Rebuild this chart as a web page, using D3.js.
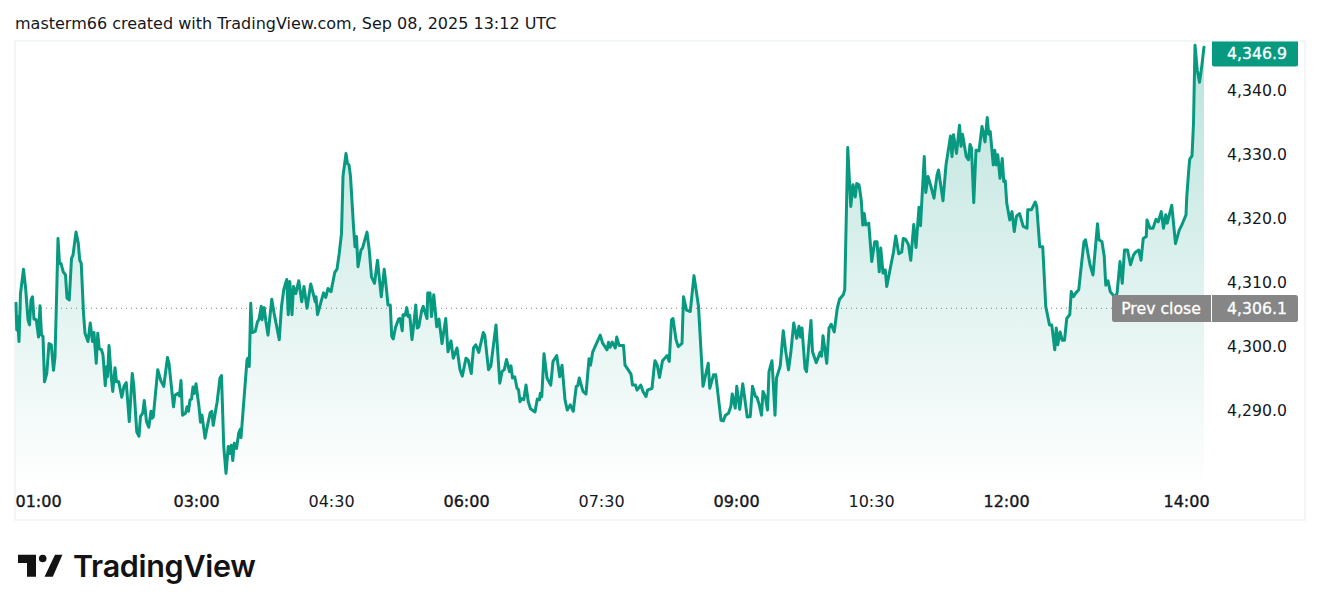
<!DOCTYPE html>
<html>
<head>
<meta charset="utf-8">
<script src="https://d3js.org/d3.v7.min.js"></script>
<style>
  html, body { margin: 0; padding: 0; background: #fff; }
  svg { display: block; }
  text { font-family: "DejaVu Sans", sans-serif; }
</style>
</head>
<body>
<div id="chart"></div>
<script>
// minutes after 01:00
const minutes = [
  0,0.5,1,2,3,5,6.5,8,9,10,11,12,13.5,15,16,17,18,19,20.5,22,23.5,25,26,27,28,29,30,31.5,33,34,35.5,37,38,40,41.5,42.5,43.5,45,46,48,49.5,51,52,53.5,54.5,55.5,57,58,59.5,60.5,61,62,63.5,64.5,66,67,68.5,70.5,72,73.5,75.5,77.5,78.5,80.5,82,83,84.5,85.5,87,88.5,90,90.5,91.5,94.5,96.5,98.5,101,102,105,106,108,109,110,111,113,114,115,116,117,118,119,120,122,123,124,126,127.5,129.5,130.5,131.5,133.5,134,136,137,138.5,140,141.5,142.5,143.5,144.5,145.5,147,148.5,149.5,150,154,154.5,155.5,156.5,157.5,159.5,161,
  162,163.5,164,165.5,166.5,168,170.5,172,175.5,177,178.5,180.5,181.5,182.5,184,185,186.5,188.5,190.5,192,194,196.5,199.5,200,201,205,206.5,208,210,212.5,214,215.5,217,218,220,221,222,223,225,226,227,228,230,231,234,235.5,237,239,241,243.5,245.5,247,248,249.5,250.5,251.5,253,255,256,257.5,258,259.5,260.5,261.5,262.5,264,265,266.5,267.5,268.5,270.5,271.5,274,274.5,276,277,278.5,280.5,282,284,286.5,288,290,291.5,294,296,297.5,300,301.5,303.5,305,306.5,308.5,311.5,312.5,315,316.5,320,322.5,
  324,325.5,327,329,330,331,332.5,334,335,336,337,338.5,340,341.5,343,346,347.5,349,349.5,350.5,352,354,356.5,358,360.5,362.5,364,366,367.5,369.5,371.5,373.5,374.5,375.5,378,380,382,383,384.5,387,389.5,391,394,395,396,397.5,399.5,400.5,402,405,406,407.5,410,411,413,414,416.5,418,420,421,424,425.5,426,427.5,429,431,434,435.5,437,438,440,441.5,444,445,447,449.5,452,455,458,461.5,462.5,465,466.5,470,471.5,473,475,476.5,477.5,479.5,480.5,482.5,484.5,487.5,489.5,
  491,493,494,495.5,497,498,499.5,501,502,504,506,507,509.5,511.5,513,515,516.5,518.5,520.5,522,523,524,526,527,530,531,533.5,536,537,538,540.5,542,543.5,545.5,547.5,549,551.5,552.5,554.5,556.5,558,559.5,560.5,562,563.5,564.5,565.5,566.5,568.5,570.5,572.5,574,575.5,576.5,578,579.5,580.5,583,585,586.5,588.5,590.5,591.5,593,595,596.5,598.5,600,602,603,605.5,606.5,608,610,612,614,615,618,620,623,624,625,627,629,630,631,633.5,635,636,637,638.5,640,642,644,646,647.5,648.5,649.5,651.5,652.5,653.5,654.5,656,657.5,658.5,659.5,660.5,662.5,664,665.5,667,669,
  671.5,674,674.5,677,679.5,680.5,682.5,684.5,686.5,689,690.5,692.5,693.5,694.5,696,697.5,699,700.5,702.5,703.5,705,706.5,708.5,710,712,713,716,718,721,722,724,725.5,726.5,728,729.5,730.5,732.5,734,736,737.5,739,741,743,745,746.5,748.5,750,751.5,753.5,754,756,758,760,761.5,763.5,765,766.5,767.5,770.5,773,775.5,777,780,780.5,782,782.5,784,785,786,787.5,789,790.5,792
];
const prices = [
  4306.9,4302.7,4304.8,4300.9,4308.4,4312.2,4309.0,4304.3,4303.5,4307.4,4307.9,4304.4,4304.3,4301.6,4306.5,4301.9,4301.7,4294.6,4295.9,4300.6,4300.4,4296.4,4298.5,4307.4,4317.0,4313.1,4313.1,4311.8,4311.3,4307.7,4307.4,4313.9,4314.4,4318.0,4316.3,4313.6,4313.1,4305.3,4302.2,4300.9,4303.8,4300.9,4302.3,4297.5,4302.2,4299.8,4299.6,4298.8,4294.0,4297.0,4295.4,4300.3,4295.4,4293.1,4296.8,4294.6,4294.6,4292.2,4293.9,4294.5,4288.4,4295.9,4294.1,4286.8,4286.1,4289.2,4289.7,4291.7,4288.4,4287.5,4290.0,4288.9,4289.1,4296.5,4294.8,4293.9,4298.4,4297.5,4290.7,4292.5,4292.8,4292.4,4294.8,4289.4,4289.7,4290.7,4290.0,4291.8,4291.9,4293.8,4292.8,4294.3,4290.7,4288.3,4289.4,4285.8,4287.6,4289.8,4290.0,4287.8,4290.7,4291.3,4295.2,4295.6,4284.5,4280.3,4284.5,4283.4,4284.7,4282.3,4285.0,4284.2,4286.6,4287.2,4285.9,4298.0,4298.3,4297.0,4306.9,4302.3,4302.5,4304.0,
  4304.4,4306.4,4304.3,4306.2,4304.2,4301.9,4307.5,4305.4,4301.2,4306.4,4309.0,4310.6,4305.1,4310.3,4305.1,4309.5,4308.4,4310.4,4307.1,4309.5,4306.1,4309.9,4307.1,4307.9,4305.1,4308.5,4307.8,4309.2,4308.7,4311.7,4312.2,4314.7,4317.8,4326.7,4330.3,4328.7,4328.5,4326.7,4318.9,4315.7,4317.3,4312.6,4315.2,4315.5,4318.0,4315.2,4311.0,4310.0,4313.6,4307.9,4312.2,4309.0,4306.6,4306.6,4301.7,4301.3,4303.1,4304.4,4304.5,4302.6,4305.1,4305.0,4306.2,4304.8,4305.0,4301.2,4303.2,4306.6,4303.0,4303.2,4305.8,4306.4,4304.5,4308.5,4308.5,4304.8,4308.2,4303.2,4304.4,4300.6,4304.5,4299.3,4301.0,4298.3,4299.9,4296.5,4295.5,4298.3,4298.0,4295.9,4299.9,4300.4,4299.2,4302.3,4301.9,4296.5,4297.0,4303.5,4294.4,
  4296.2,4296.5,4298.1,4296.2,4297.1,4295.2,4295.4,4293.6,4293.4,4291.5,4292.0,4291.8,4294.1,4291.5,4290.4,4289.9,4291.9,4291.8,4292.8,4292.3,4299.0,4295.2,4294.1,4297.8,4298.7,4295.4,4297.2,4291.8,4290.2,4291.0,4290.0,4293.9,4294.0,4295.2,4293.1,4292.7,4298.2,4297.2,4299.3,4300.6,4301.9,4300.7,4299.6,4300.8,4300.0,4300.8,4299.9,4301.6,4300.3,4300.3,4297.2,4296.7,4295.8,4294.1,4294.1,4293.3,4294.1,4293.1,4292.3,4293.3,4293.6,4297.0,4297.9,4297.2,4295.3,4297.9,4298.7,4297.8,4304.3,4304.5,4301.2,4300.1,4300.6,4307.9,4305.8,4305.6,4311.2,4306.4,4293.9,4297.5,4293.6,4295.7,4295.7,4288.6,4288.5,4289.4,4289.7,4290.7,4292.7,4290.5,4293.9,4290.3,4294.3,4289.1,4289.2,
  4293.9,4292.3,4292.2,4291.0,4289.4,4293.1,4292.3,4290.2,4296.2,4297.9,4289.4,4295.2,4297.1,4302.6,4299.6,4296.5,4299.1,4303.8,4301.4,4303.3,4301.6,4303.0,4296.7,4296.2,4304.2,4299.3,4297.6,4299.2,4298.6,4301.8,4297.5,4303.0,4303.6,4302.4,4306.1,4307.5,4308.2,4309.0,4331.2,4322.0,4325.4,4323.5,4325.6,4325.4,4323.0,4319.1,4320.9,4319.1,4319.4,4313.4,4316.5,4316.5,4311.8,4315.5,4311.6,4312.1,4309.5,4312.5,4314.9,4317.4,4314.6,4314.9,4317.0,4316.9,4316.0,4313.6,4319.2,4315.6,4321.9,4319.0,4329.8,4324.2,4326.7,4325.1,4323.3,4326.9,4327.7,4322.9,4328.5,4333.0,4329.8,4333.2,4330.3,4334.7,4331.4,4333.3,4329.8,4329.3,4331.7,4331.1,4322.6,4330.8,4330.7,4334.5,4332.1,4335.9,4333.3,4333.7,4328.5,4330.8,4328.5,4330.1,4326.4,4329.5,4325.9,4326.0,4322.5,4319.9,4321.2,4318.1,4320.5,4320.9,
  4318.9,4318.6,4321.5,4321.5,4322.7,4322.0,4315.7,4315.7,4306.4,4303.5,4303.5,4299.6,4303.0,4300.4,4302.4,4301.1,4301.1,4304.5,4305.1,4308.7,4307.9,4308.5,4309.0,4312.3,4316.5,4316.8,4312.9,4311.3,4319.3,4316.8,4316.5,4314.2,4309.7,4310.4,4308.7,4308.4,4307.9,4308.4,4313.4,4310.0,4315.2,4315.2,4312.9,4314.4,4314.9,4315.2,4313.6,4317.0,4317.3,4319.9,4318.6,4318.6,4320.0,4319.6,4321.2,4318.6,4320.7,4319.4,4322.2,4316.2,4318.3,4319.0,4320.7,4323.5,4328.2,4329.4,4329.9,4335.0,4347.2,4343.3,4341.4,4343.9,4346.9
];

const priceTicks = [4290, 4300, 4310, 4320, 4330, 4340];
const timeTicks = [0, 120, 210, 300, 390, 480, 570, 660, 780];
const timeLabels = ["01:00", "03:00", "04:30", "06:00", "07:30", "09:00", "10:30", "12:00", "14:00"];
const boldLabels = ["01:00", "03:00", "06:00", "09:00", "12:00", "14:00"];
const lastPrice = 4346.9;
const prevClose = 4306.1;
const header = "masterm66 created with TradingView.com, Sep 08, 2025 13:12 UTC";

const W = 1320, H = 611;
const green = "#089981";
const grey = "#868686";

const svg = d3.select("#chart").append("svg").attr("width", W).attr("height", H);

const x = d3.scaleLinear().domain([0, 792]).range([16, 1204]);
const y = d3.scaleLinear().domain([4290, 4340]).range([411.3, 91.3]);

const defs = svg.append("defs");
const grad = defs.append("linearGradient").attr("id", "fade")
  .attr("gradientUnits", "userSpaceOnUse")
  .attr("x1", 0).attr("x2", 0).attr("y1", 41).attr("y2", 490);
grad.append("stop").attr("offset", 0).attr("stop-color", green).attr("stop-opacity", 0.28);
grad.append("stop").attr("offset", 1).attr("stop-color", green).attr("stop-opacity", 0);

const points = minutes.map((m, i) => [m, prices[i]]);

// frame
svg.append("rect")
  .attr("x", 15).attr("y", 41).attr("width", 1290).attr("height", 479)
  .attr("fill", "none").attr("stroke", "#f0f3f5").attr("stroke-width", 1.5);

// header
svg.append("text").attr("x", 15).attr("y", 28.5)
  .attr("font-size", 16).attr("fill", "#131722").text(header);

// area and line
const area = d3.area().x(d => x(d[0])).y0(490).y1(d => y(d[1]));
const line = d3.line().x(d => x(d[0])).y(d => y(d[1]));

svg.append("path").datum(points).attr("d", area).attr("fill", "url(#fade)");

svg.append("line")
  .attr("x1", 16).attr("x2", 1204)
  .attr("y1", y(prevClose)).attr("y2", y(prevClose))
  .attr("stroke", "#787b86").attr("stroke-width", 1).attr("stroke-dasharray", "1 4");

svg.append("path").datum(points).attr("d", line)
  .attr("fill", "none").attr("stroke", green).attr("stroke-width", 3)
  .attr("stroke-linejoin", "round").attr("stroke-linecap", "round");

// price axis
const yAxis = d3.axisRight(y).tickValues(priceTicks).tickSize(0).tickFormat(d3.format(",.1f"));
const gy = svg.append("g").attr("transform", "translate(1287,0)").call(yAxis);
gy.select(".domain").remove();
gy.selectAll("text")
  .attr("x", 0).attr("dy", "0.25em").attr("text-anchor", "end")
  .style("font-family", "'DejaVu Sans', sans-serif").style("font-size", "15.7px").attr("fill", "#131722");

// time axis
const xAxis = d3.axisBottom(x).tickValues(timeTicks).tickSize(0)
  .tickFormat((d, i) => timeLabels[i]);
const gx = svg.append("g").attr("transform", "translate(0,491)").call(xAxis);
gx.select(".domain").remove();
gx.selectAll("text")
  .attr("y", 0).attr("dy", "1em")
  .style("font-family", "'DejaVu Sans', sans-serif").style("font-size", "16px").attr("fill", "#131722")
  .attr("stroke", (d, i) => boldLabels.includes(timeLabels[i]) ? "#131722" : "none")
  .attr("stroke-width", 0.4);
gx.select("text").attr("text-anchor", "start").attr("x", -1);

// last price tag
svg.append("path")
  .attr("d", "M1212,41.5H1298V64.5a2,2 0 0 1 -2,2H1214a2,2 0 0 1 -2,-2Z")
  .attr("fill", green);
svg.append("text").attr("x", 1287).attr("y", 59).attr("text-anchor", "end")
  .attr("font-size", 15.7).attr("fill", "#fff").attr("stroke", "#fff").attr("stroke-width", 0.3)
  .text(d3.format(",.1f")(lastPrice));

// prev close tag
svg.append("rect").attr("x", 1112).attr("y", 295).attr("width", 186).attr("height", 27)
  .attr("rx", 2.5).attr("fill", grey);
svg.append("line").attr("x1", 1211.5).attr("x2", 1211.5).attr("y1", 295).attr("y2", 322)
  .attr("stroke", "#fff").attr("stroke-width", 1);
svg.append("text").attr("x", 1161).attr("y", 314).attr("text-anchor", "middle")
  .attr("font-size", 15.7).attr("fill", "#fff").attr("stroke", "#fff").attr("stroke-width", 0.3)
  .text("Prev close");
svg.append("text").attr("x", 1287).attr("y", 313.5).attr("text-anchor", "end")
  .attr("font-size", 15.7).attr("fill", "#fff").attr("stroke", "#fff").attr("stroke-width", 0.3)
  .text(d3.format(",.1f")(prevClose));

// logo
const logo = svg.append("g").attr("fill", "#131313");
logo.append("path").attr("d", "M18,554.7H36V576.7H27V563H18Z");
logo.append("circle").attr("cx", 42.7).attr("cy", 558.5).attr("r", 3.8);
logo.append("path").attr("d", "M55,554.7H62.4L52.8,576.7H44.5Z");
logo.append("text").attr("x", 73).attr("y", 576.5)
  .attr("font-size", 30.5).attr("font-weight", 600)
  .style("font-family", "Inter, sans-serif").style("letter-spacing", "-0.3px")
  .text("TradingView");
</script>
</body>
</html>
